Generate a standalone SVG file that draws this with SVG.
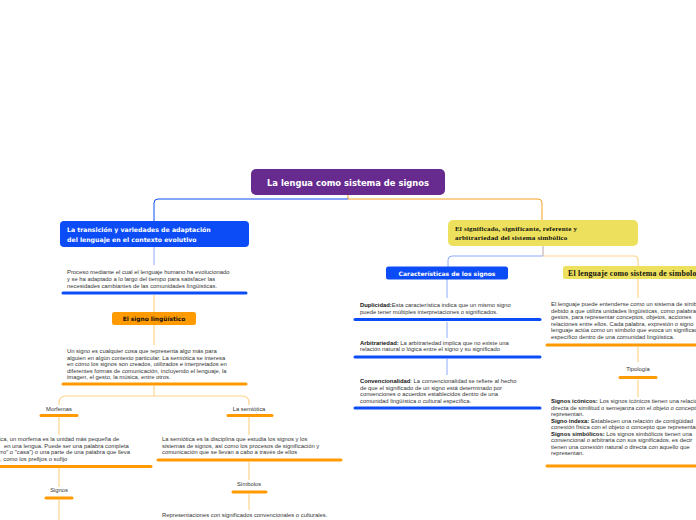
<svg xmlns="http://www.w3.org/2000/svg" width="696" height="520" viewBox="0 0 696 520">
<style>
.bg{fill:#ffffff}
.lbl{font-family:"DejaVu Sans","Liberation Sans",sans-serif;font-weight:bold}
.w{fill:#ffffff}
.k{fill:#111111}
.ser{font-family:"Liberation Serif",serif;font-weight:bold;fill:#111;letter-spacing:0.2px}
.body{font-family:"Liberation Sans",Arial,sans-serif;font-size:5.85px;fill:#333333}
.sm{font-family:"Liberation Sans",Arial,sans-serif;font-size:5.8px;fill:#333333;text-anchor:middle}
.ulb{stroke:#0b4cf6;stroke-width:3;stroke-linecap:round}
.ulo{stroke:#ff9a00;stroke-width:3;stroke-linecap:round}
.cb{fill:none;stroke:#0b4cf6;stroke-width:1}
.co{fill:none;stroke:#f5a020;stroke-width:1}
.clb{fill:none;stroke:#8eaaff;stroke-width:1}
.clo{fill:none;stroke:#ffd48c;stroke-width:1.2}
</style>
<rect class="bg" x="0" y="0" width="696" height="520"/>
<g id="connectors">
<path class="co" d="M348,195 V199"/>
<path class="cb" d="M348,199 H158 Q154,199 154,203 V221"/>
<path class="co" d="M348,199 H538 Q542,199 542,203 V220"/>
<path class="clb" d="M154,247 V265"/>
<path class="clo" d="M154,295 V312"/>
<path class="clo" d="M154,325 V345"/>
<path class="clo" d="M154,386 V396"/>
<path class="clo" d="M154,396 H66 Q59,396 59,403 V405"/>
<path class="clo" d="M154,396 H242 Q249,396 249,403 V405"/>
<path class="clo" d="M59,417 V435"/>
<path class="clo" d="M59,468 V487"/>
<path class="clo" d="M59,500 V520"/>
<path class="clo" d="M249,417 V435"/>
<path class="clo" d="M249,462 V480"/>
<path class="clo" d="M249,494 V510"/>
<path fill="none" stroke="#b8a8a8" stroke-width="1" d="M543,246 V256"/>
<path class="clb" d="M543,256 H452 Q448,256 448,260 V267"/>
<path class="clo" d="M543,256 H634 Q638,256 638,260 V266"/>
<path class="clb" d="M447,279 V298"/>
<path class="clb" d="M447,322 V338"/>
<path class="clb" d="M447,359 V375"/>
<path class="clo" d="M638,279 V298"/>
<path class="clo" d="M638,347 V362"/>
<path class="clo" d="M638,380 V397"/>
</g>
<g id="root">
<rect x="251" y="169" width="194" height="26" rx="5" fill="#672b8f"/>
<text class="lbl w" x="348" y="185.5" font-size="8.4" text-anchor="middle">La lengua como sistema de signos</text>
</g>
<g id="n-transicion">
<rect x="60" y="221" width="189" height="26" rx="4" fill="#0b4cf6"/>
<text class="lbl w" x="67" y="232" font-size="6.2">La transición y variedades de adaptación</text>
<text class="lbl w" x="67" y="241.5" font-size="6.2">del lenguaje en el contexto evolutivo</text>
</g>
<g id="n-proceso">
<text class="body" x="67" y="274">Proceso mediante el cual el lenguaje humano ha evolucionado</text>
<text class="body" x="67" y="281">y se ha adaptado a lo largo del tiempo para satisfacer las</text>
<text class="body" x="67" y="287.5">necesidades cambiantes de las comunidades lingüísticas.</text>
<line class="ulb" x1="63" y1="293" x2="246" y2="293"/>
</g>
<g id="n-signo">
<rect x="112" y="312" width="84" height="13" rx="2.5" fill="#ff9a00"/>
<text class="lbl k" x="154" y="321" font-size="5.9" text-anchor="middle">El signo lingüístico</text>
</g>
<g id="n-signo-def">
<text class="body" x="67" y="353">Un signo es cualquier cosa que representa algo más para</text>
<text class="body" x="67" y="359.5">alguien en algún contexto particular. La semiótica se interesa</text>
<text class="body" x="67" y="366">en cómo los signos son creados, utilizados e interpretados en</text>
<text class="body" x="67" y="372.5">diferentes formas de comunicación, incluyendo el lenguaje, la</text>
<text class="body" x="67" y="379">imagen, el gesto, la música, entre otros.</text>
<line class="ulo" x1="63" y1="384" x2="246" y2="384"/>
</g>
<g id="n-morfemas">
<text class="sm" x="59" y="411">Morfemas</text>
<line class="ulo" x1="41" y1="415.5" x2="77" y2="415.5"/>
</g>
<g id="n-morfemas-def">
<text class="body" x="-1" y="441">ica, un morfema es la unidad más pequeña de</text>
<text class="body" x="4" y="447.5">en una lengua. Puede ser una palabra completa</text>
<text class="body" x="-1" y="454">rro" o "casa") o una parte de una palabra que lleva</text>
<text class="body" x="0" y="460.5">, como los prefijos o sufijo</text>
<line class="ulo" x1="0" y1="466.5" x2="151" y2="466.5"/>
</g>
<g id="n-signos">
<text class="sm" x="59" y="492">Signos</text>
<line class="ulo" x1="46" y1="498" x2="72" y2="498"/>
</g>
<g id="n-semiotica">
<text class="sm" x="249" y="411">La semiótica</text>
<line class="ulo" x1="228" y1="415.5" x2="272" y2="415.5"/>
</g>
<g id="n-semiotica-def">
<text class="body" x="162" y="441">La semiótica es la disciplina que estudia los signos y los</text>
<text class="body" x="162" y="447.5">sistemas de signos, así como los procesos de significación y</text>
<text class="body" x="162" y="454">comunicación que se llevan a cabo a través de ellos</text>
<line class="ulo" x1="158" y1="460" x2="341" y2="460"/>
</g>
<g id="n-simbolos">
<text class="sm" x="249" y="486">Símbolos</text>
<line class="ulo" x1="233" y1="492" x2="266" y2="492"/>
</g>
<g id="n-simbolos-def">
<text class="body" x="162" y="517">Representaciones con significados convencionales o culturales.</text>
</g>
<g id="n-significado">
<rect x="448" y="220" width="190" height="26" rx="5" fill="#ece05c"/>
<text class="ser" x="455" y="231" font-size="7">El significado, significante, referente y</text>
<text class="ser" x="455" y="240" font-size="7">arbitrariedad del sistema simbólico</text>
</g>
<g id="n-caracteristicas">
<rect x="386" y="266.5" width="122" height="13" rx="2.5" fill="#0b4cf6"/>
<text class="lbl w" x="447" y="275.8" font-size="6" text-anchor="middle">Características de los signos</text>
</g>
<g id="n-duplicidad">
<text class="body" x="360" y="307"><tspan font-weight="bold" fill="#111">Duplicidad:</tspan>Esta característica indica que un mismo signo</text>
<text class="body" x="360" y="313.5">puede tener múltiples interpretaciones o significados.</text>
<line class="ulb" x1="355" y1="319.5" x2="540" y2="319.5"/>
</g>
<g id="n-arbitrariedad">
<text class="body" x="360" y="344.5"><tspan font-weight="bold" fill="#111">Arbitrariedad:</tspan> La arbitrariedad implica que no existe una</text>
<text class="body" x="360" y="351">relación natural o lógica entre el signo y su significado</text>
<line class="ulb" x1="355" y1="357" x2="540" y2="357"/>
</g>
<g id="n-convencionalidad">
<text class="body" x="360" y="383"><tspan font-weight="bold" fill="#111">Convencionalidad</tspan>: La convencionalidad se refiere al hecho</text>
<text class="body" x="360" y="389.5">de que el significado de un signo está determinado por</text>
<text class="body" x="360" y="396">convenciones o acuerdos establecidos dentro de una</text>
<text class="body" x="360" y="402.5">comunidad lingüística o cultural específica.</text>
<line class="ulb" x1="355" y1="408" x2="540" y2="408"/>
</g>
<g id="n-lenguaje-simbolos">
<rect x="563" y="266" width="140" height="13" rx="2.5" fill="#ece05c"/>
<text class="ser" x="568" y="275.5" font-size="7.8">El lenguaje como sistema de simbolos</text>
</g>
<g id="n-lenguaje-def">
<text class="body" x="551" y="306">El lenguaje puede entenderse como un sistema de símbolos</text>
<text class="body" x="551" y="312.5">debido a que utiliza unidades lingüísticas, como palabras</text>
<text class="body" x="551" y="319">gestos, para representar conceptos, objetos, acciones</text>
<text class="body" x="551" y="325.5">relaciones entre ellos. Cada palabra, expresión o signo</text>
<text class="body" x="551" y="332">lenguaje actúa como un símbolo que evoca un significado</text>
<text class="body" x="551" y="338.5">específico dentro de una comunidad lingüística.</text>
<line class="ulo" x1="547" y1="345" x2="700" y2="345"/>
</g>
<g id="n-tipologia">
<text class="sm" x="638" y="371">Tipología</text>
<line class="ulo" x1="620" y1="377.5" x2="656" y2="377.5"/>
</g>
<g id="n-tipologia-def">
<text class="body" x="551" y="403"><tspan font-weight="bold" fill="#111">Signos icónicos:</tspan> Los signos icónicos tienen una relación</text>
<text class="body" x="551" y="409.5">directa de similitud o semejanza con el objeto o concepto</text>
<text class="body" x="551" y="416">representan.</text>
<text class="body" x="551" y="422.5"><tspan font-weight="bold" fill="#111">Signo indexa:</tspan> Establecen una relación de contigüidad</text>
<text class="body" x="551" y="429">conexión física con el objeto o concepto que representan</text>
<text class="body" x="551" y="435.5"><tspan font-weight="bold" fill="#111">Signos simbólicos:</tspan> Los signos simbólicos tienen una</text>
<text class="body" x="551" y="442">convencional o arbitraria con sus significados, es decir</text>
<text class="body" x="551" y="448.5">tienen una conexión natural o directa con aquello que</text>
<text class="body" x="551" y="455">representan.</text>
<line class="ulo" x1="547" y1="466" x2="700" y2="466"/>
</g>
</svg>
